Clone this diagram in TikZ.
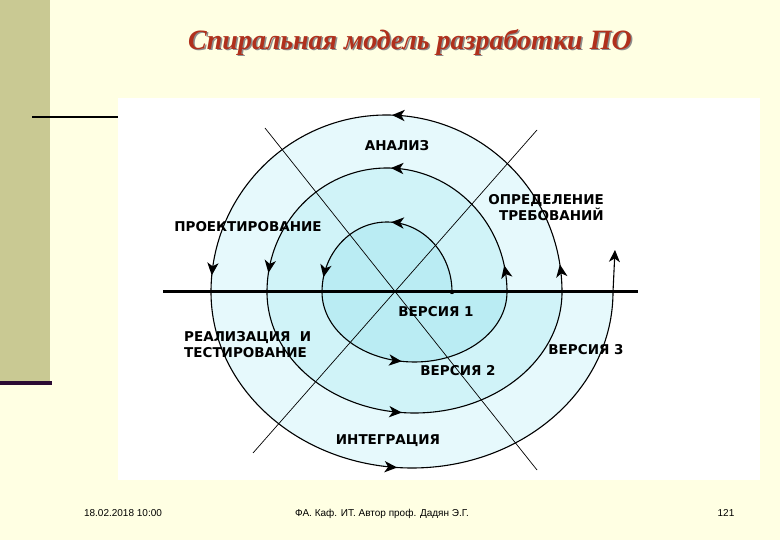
\documentclass[tikz,border=0pt]{standalone}
\usepackage{fontspec}
\setmainfont{Liberation Serif}
\newfontfamily\stagefont{DejaVu Sans}
\newfontfamily\footfont{Liberation Sans}
\usetikzlibrary{arrows.meta,decorations.markings}

\definecolor{slidebg}{HTML}{FFFFE3}
\definecolor{stripcol}{HTML}{C9C993}
\definecolor{plumline}{HTML}{2B0B33}
\definecolor{titlered}{HTML}{B0301C}
\definecolor{ringout}{HTML}{E6F9FC}
\definecolor{ringmid}{HTML}{D0F3F8}
\definecolor{ringin}{HTML}{BAECF3}

\tikzset{
    stage/.style={font=\stagefont\bfseries\fontsize{13.5}{16}\selectfont, inner sep=0pt},
    foot/.style={font=\footfont\fontsize{10}{12}\selectfont, inner sep=0pt, anchor=base},
    spiral/.style={line width=1.1pt},
    tip/.style={postaction={decorate, decoration={markings,
        mark=at position #1 with {\arrow[scale=1.4]{Stealth[length=9pt, width=8pt, inset=2.5pt]}}}}},
    cross/.style={line width=0.7pt}
}

\begin{document}
\begin{tikzpicture}[x=1pt, y=-1pt]

        % slide
        \fill[slidebg] (0,0) rectangle (780,540);
        \useasboundingbox (0,0) rectangle (780,540);
        \fill[stripcol] (0,0) rectangle (50,381);
        \fill[plumline] (0,381) rectangle (52,385);
        \draw[line width=2pt] (32,117) -- (118,117);
        \fill[white] (118,98) rectangle (760,480);

        \node[text=black!45, font=\bfseries\itshape\fontsize{28}{32}\selectfont] (shadow) at (411.5,43.5) {Спиральная модель разработки ПО};
        \node[text=titlered, font=\bfseries\itshape\fontsize{28}{32}\selectfont] (title) at (410,42) {Спиральная модель разработки ПО};

        % rings
        \fill[ringout] (562,292) arc[start angle=0, end angle=180, x radius=175.5pt, y radius=177pt]
            arc[start angle=180, end angle=360, x radius=201pt, y radius=176pt] -- cycle;
        \fill[ringmid] (507,292) arc[start angle=0, end angle=180, x radius=120pt, y radius=124pt]
            arc[start angle=180, end angle=360, x radius=147.5pt, y radius=121pt] -- cycle;
        \fill[ringin] (452,292) arc[start angle=0, end angle=180, x radius=65pt, y radius=70pt]
            arc[start angle=180, end angle=360, x radius=92.5pt, y radius=70pt] -- cycle;

        % axes
        \coordinate (start) at (452,292);
        \draw[cross] (265,128) -- (537,470);
        \draw[cross] (537,130) -- (253,453);
        \draw[line width=3pt] (163,292) -- (638,292);

        % spiral
        \draw[spiral, tip=0.48, tip=0.93] (start) arc[start angle=0, end angle=180, x radius=65pt, y radius=70pt];
        \draw[spiral, tip=0.45] (322,292) arc[start angle=180, end angle=360, x radius=92.5pt, y radius=70pt];
        \draw[spiral, tip=0.07, tip=0.49, tip=0.95] (507,292) arc[start angle=0, end angle=180, x radius=120pt, y radius=124pt];
        \draw[spiral, tip=0.47] (267,292) arc[start angle=180, end angle=360, x radius=147.5pt, y radius=121pt];
        \draw[spiral, tip=0.05, tip=0.49, tip=0.97] (562,292) arc[start angle=0, end angle=180, x radius=175.5pt, y radius=177pt];
        \draw[spiral, tip=0.475] (211,292) arc[start angle=180, end angle=360, x radius=201pt, y radius=176pt]
            coordinate (last);
        \draw[spiral, -{Stealth[length=12pt, width=11pt, inset=3.5pt]}] (last) -- (615,250);
        \fill (start) circle (2.2pt);

        % stages
        \node[stage] (analysis) at (397,146) {АНАЛИЗ};
        \node[stage, align=right, anchor=east] (requirements) at (604,208) {ОПРЕДЕЛЕНИЕ\\ТРЕБОВАНИЙ};
        \node[stage] (design) at (248,227) {ПРОЕКТИРОВАНИЕ};
        \node[stage, align=left, anchor=west] (coding) at (184,345) {РЕАЛИЗАЦИЯ\hspace{0.7em}И\\ТЕСТИРОВАНИЕ};
        \node[stage] (version1) at (436,312) {ВЕРСИЯ 1};
        \node[stage] (version2) at (458,371) {ВЕРСИЯ 2};
        \node[stage] (version3) at (586,350) {ВЕРСИЯ 3};
        \node[stage] (integration) at (388,441) {ИНТЕГРАЦИЯ};

        % footer
        \node[foot] (date) at (123,516) {18.02.2018 10:00};
        \node[foot] (author) at (382,516) {ФА. Каф. ИТ. Автор проф. Дадян Э.Г.};
        \node[foot] (page) at (726,516) {121};

\end{tikzpicture}
\end{document}
